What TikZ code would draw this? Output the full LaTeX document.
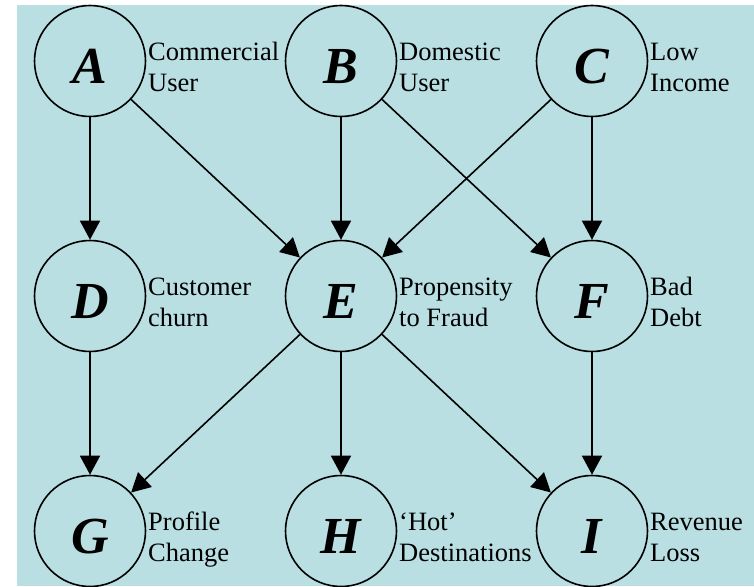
\documentclass[tikz,border=0pt]{standalone}
\usepackage{fontspec}
\setmainfont{Liberation Serif}
\usetikzlibrary{arrows.meta}
\definecolor{paneblue}{RGB}{185,223,227}
\tikzset{
  varnode/.style={circle, draw=black, line width=1.6pt, minimum size=111pt, inner sep=0pt,
    font=\fontsize{52}{52}\selectfont\bfseries\itshape, text height=44pt, text depth=0pt},
  caption/.style={anchor=base west, align=left, inner sep=0pt,
    font=\fontsize{26.5}{31}\selectfont},
  link/.style={line width=1.6pt, -{Triangle[length=19pt,width=20pt]}},
}
\begin{document}
\begin{tikzpicture}[x=1pt,y=-1pt]
\useasboundingbox (0,0) rectangle (754,586);
\fill[paneblue] (17,5) rectangle (754,586);

% variables of the network
\node[varnode] (A) at (90,61)  {A};
\node[varnode] (B) at (341,61) {B};
\node[varnode] (C) at (592,61) {C};
\node[varnode] (D) at (90,296)  {D};
\node[varnode] (E) at (341,296) {E};
\node[varnode] (F) at (592,296) {F};
\node[varnode] (G) at (90,531)  {G};
\node[varnode] (H) at (341,531) {H};
\node[varnode] (I) at (592,531) {I};

% descriptions beside each variable (anchored at the second line's baseline)
\node[caption] (tA) at (148,91)  {Commercial\\User};
\node[caption] (tB) at (399,91)  {Domestic\\User};
\node[caption] (tC) at (650,91)  {Low\\Income};
\node[caption] (tD) at (148,326) {Customer\\churn};
\node[caption] (tE) at (399,326) {Propensity\\to Fraud};
\node[caption] (tF) at (650,326) {Bad\\Debt};
\node[caption] (tG) at (148,561) {Profile\\Change};
\node[caption] (tH) at (399,561) {‘Hot’\\Destinations};
\node[caption] (tI) at (650,561) {Revenue\\Loss};

% dependencies
\draw[link] (A) -- (D);
\draw[link] (A) -- (E);
\draw[link] (B) -- (E);
\draw[link] (B) -- (F);
\draw[link] (C) -- (E);
\draw[link] (C) -- (F);
\draw[link] (D) -- (G);
\draw[link] (E) -- (G);
\draw[link] (E) -- (H);
\draw[link] (E) -- (I);
\draw[link] (F) -- (I);
\end{tikzpicture}
\end{document}
